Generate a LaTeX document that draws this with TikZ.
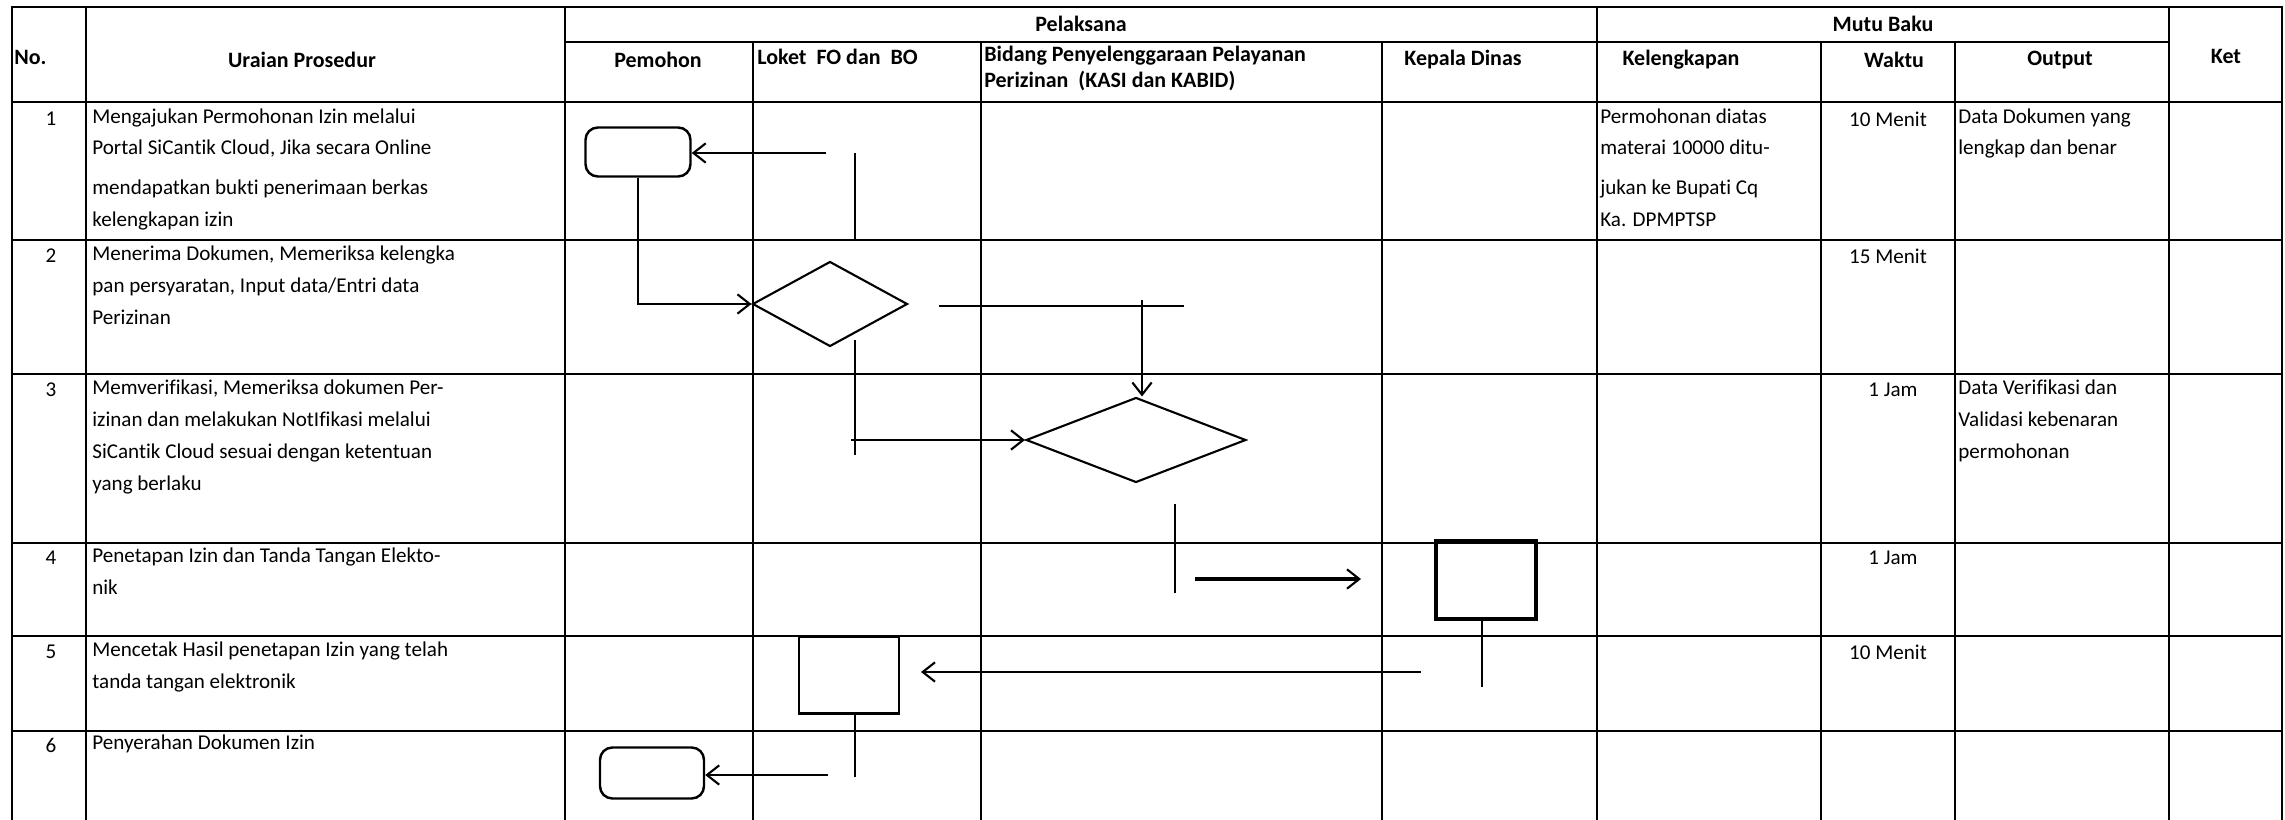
\documentclass[tikz,border=0pt]{standalone}
\usepackage{fontspec}
\setmainfont{Carlito}[Ligatures=NoCommon]
\usetikzlibrary{arrows.meta,shapes.geometric}

\begin{document}
\begin{tikzpicture}[x=0.02cm,y=-0.02cm,
  every node/.append style={font=\fontsize{12}{14}\selectfont},
  grid/.style={black,line width=1.4pt},
  link/.style={black,line width=1.1pt},
  linkarrow/.style={black,line width=1.4pt,-{Straight Barb[length=7pt,width=11pt,line width=1.2pt]}},
  hd/.style={font=\fontsize{12.5}{15}\selectfont\bfseries},
  cell/.style={anchor=mid west},
  terminal/.style={draw,rounded corners=7pt,line width=1.4pt,minimum height=0.98cm},
  decision/.style={draw,diamond,line width=1.2pt,minimum height=1.7cm},
  process/.style={draw,line width=1.2pt,minimum width=2cm}]
\tikzstyle{every node}+=[inner sep=0pt]
\useasboundingbox (0,0) rectangle (2285,820);

% table lines
\draw [grid] (12,820) -- (12,7) -- (2282,7) -- (2282,820);
\draw [grid] (565,42) -- (2169,42);
\draw [grid] (12,102) -- (2282,102);
\draw [grid] (12,240) -- (2282,240);
\draw [grid] (12,374) -- (2282,374);
\draw [grid] (12,543) -- (2282,543);
\draw [grid] (12,636) -- (2282,636);
\draw [grid] (12,731) -- (2282,731);
\draw [grid] (86,7) -- (86,820);
\draw [grid] (565,7) -- (565,820);
\draw [grid] (1597,7) -- (1597,820);
\draw [grid] (2169,7) -- (2169,820);
\draw [grid] (753,42) -- (753,820);
\draw [grid] (981,42) -- (981,820);
\draw [grid] (1382,42) -- (1382,820);
\draw [grid] (1821,42) -- (1821,820);
\draw [grid] (1955,42) -- (1955,820);

% header
\node [hd,cell] (hno) at (14,60) {No.};
\node [hd] (huraian) at (302,60) {Uraian Prosedur};
\node [hd] (hpelaksana) at (1081,24) {Pelaksana};
\node [hd] (hpemohon) at (658,60) {Pemohon};
\node [hd,cell] (hloket) at (757,60) {Loket\ \ FO dan\ \ BO};
\node [hd,cell] (hbidanga) at (984,57) {Bidang Penyelenggaraan Pelayanan};
\node [hd,cell] (hbidangb) at (984,83) {Perizinan\ \ (KASI dan KABID)};
\node [hd] (hkepala) at (1463,60) {Kepala Dinas};
\node [hd] (hmutu) at (1883,24) {Mutu Baku};
\node [hd] (hkelengkapan) at (1681,60) {Kelengkapan};
\node [hd] (hwaktu) at (1894,60) {Waktu};
\node [hd] (houtput) at (2060,60) {Output};
\node [hd] (hket) at (2226,56) {Ket};

% row 1
\node (no1) at (51,119) {1};
\node [cell] (ur1a) at (92,119) {Mengajukan Permohonan Izin melalui};
\node [cell] (ur1b) at (92,150) {Portal SiCantik Cloud, Jika secara Online};
\node [cell] (ur1c) at (92,190) {mendapatkan bukti penerimaan berkas};
\node [cell] (ur1d) at (92,222) {kelengkapan izin};
\node [cell] (kl1a) at (1600,119) {Permohonan diatas};
\node [cell] (kl1b) at (1600,150) {materai 10000 ditu-};
\node [cell] (kl1c) at (1600,190) {jukan ke Bupati Cq};
\node [cell] (kl1d) at (1600,222) {Ka. DPMPTSP};
\node (wk1) at (1888,119) {10 Menit};
\node [cell] (out1a) at (1958,119) {Data Dokumen yang};
\node [cell] (out1b) at (1958,150) {lengkap dan benar};

% row 2
\node (no2) at (51,256) {2};
\node [cell] (ur2a) at (92,256) {Menerima Dokumen, Memeriksa kelengka};
\node [cell] (ur2b) at (92,288) {pan persyaratan, Input data/Entri data};
\node [cell] (ur2c) at (92,320) {Perizinan};
\node (wk2) at (1888,256) {15 Menit};

% row 3
\node (no3) at (51,390) {3};
\node [cell] (ur3a) at (92,390) {Memverifikasi, Memeriksa dokumen Per-};
\node [cell] (ur3b) at (92,422) {izinan dan melakukan NotIfikasi melalui};
\node [cell] (ur3c) at (92,454) {SiCantik Cloud sesuai dengan ketentuan};
\node [cell] (ur3d) at (92,486) {yang berlaku};
\node (wk3) at (1893,390) {1 Jam};
\node [cell] (out3a) at (1958,390) {Data Verifikasi dan};
\node [cell] (out3b) at (1958,422) {Validasi kebenaran};
\node [cell] (out3c) at (1958,454) {permohonan};

% row 4
\node (no4) at (51,558) {4};
\node [cell] (ur4a) at (92,558) {Penetapan Izin dan Tanda Tangan Elekto-};
\node [cell] (ur4b) at (92,590) {nik};
\node (wk4) at (1893,558) {1 Jam};

% row 5
\node (no5) at (51,652) {5};
\node [cell] (ur5a) at (92,652) {Mencetak Hasil penetapan Izin yang telah};
\node [cell] (ur5b) at (92,684) {tanda tangan elektronik};
\node (wk5) at (1888,652) {10 Menit};

% row 6
\node (no6) at (51,745) {6};
\node [cell] (ur6a) at (92,745) {Penyerahan Dokumen Izin};

% flow shapes
\node [terminal,minimum width=2.1cm] (mulai) at (638,152) {};
\node [decision,minimum width=3.1cm] (periksa) at (830,304) {};
\node [decision,minimum width=4.4cm] (verifikasi) at (1136,440) {};
\node [process,line width=2.6pt,minimum height=1.56cm] (tetapkan) at (1486,580) {};
\node [process,minimum height=1.54cm] (cetak) at (849,675) {};
\node [terminal,minimum width=2.08cm,minimum height=1.02cm] (selesai) at (652,773) {};

% loose line ends
\coordinate (lk1) at (826,153);
\coordinate (lk1a) at (855,153);
\coordinate (lk1b) at (855,240);
\coordinate (bd1a) at (939,306);
\coordinate (bd1b) at (1184,306);
\coordinate (bd1c) at (1142,300);
\coordinate (lk2a) at (855,340);
\coordinate (lk2b) at (855,455);
\coordinate (lk2c) at (851,440);
\coordinate (bd2a) at (1175,504);
\coordinate (bd2b) at (1175,593);
\coordinate (bd2c) at (1195,579);
\coordinate (bd2d) at (1361,579);
\coordinate (kd1) at (1482,687);
\coordinate (kd2) at (1421,672);
\coordinate (kd3) at (921,672);
\coordinate (lk3) at (855,777);
\coordinate (lk4) at (828,775);

% connectors
\draw [linkarrow] (lk1) -- (lk1 -| mulai.east);
\draw [link] (lk1a) -- (lk1b);
\draw [linkarrow] (mulai.south) |- (periksa.west);
\draw [link,line width=1.5pt] (bd1a) -- (bd1b);
\draw [linkarrow,line width=1.1pt] (bd1c) -- (bd1c |- verifikasi.north);
\draw [link] (lk2a) -- (lk2b);
\draw [linkarrow] (lk2c) -- (verifikasi.west);
\draw [link] (bd2a) -- (bd2b);
\draw [linkarrow,line width=1.8pt] (bd2c) -- (bd2d);
\draw [link] (tetapkan.south -| kd1) -- (kd1);
\draw [linkarrow] (kd2) -- (kd3);
\draw [link] (cetak.south -| lk3) -- (lk3);
\draw [linkarrow] (lk4) -- (lk4 -| selesai.east);
\end{tikzpicture}
\end{document}
